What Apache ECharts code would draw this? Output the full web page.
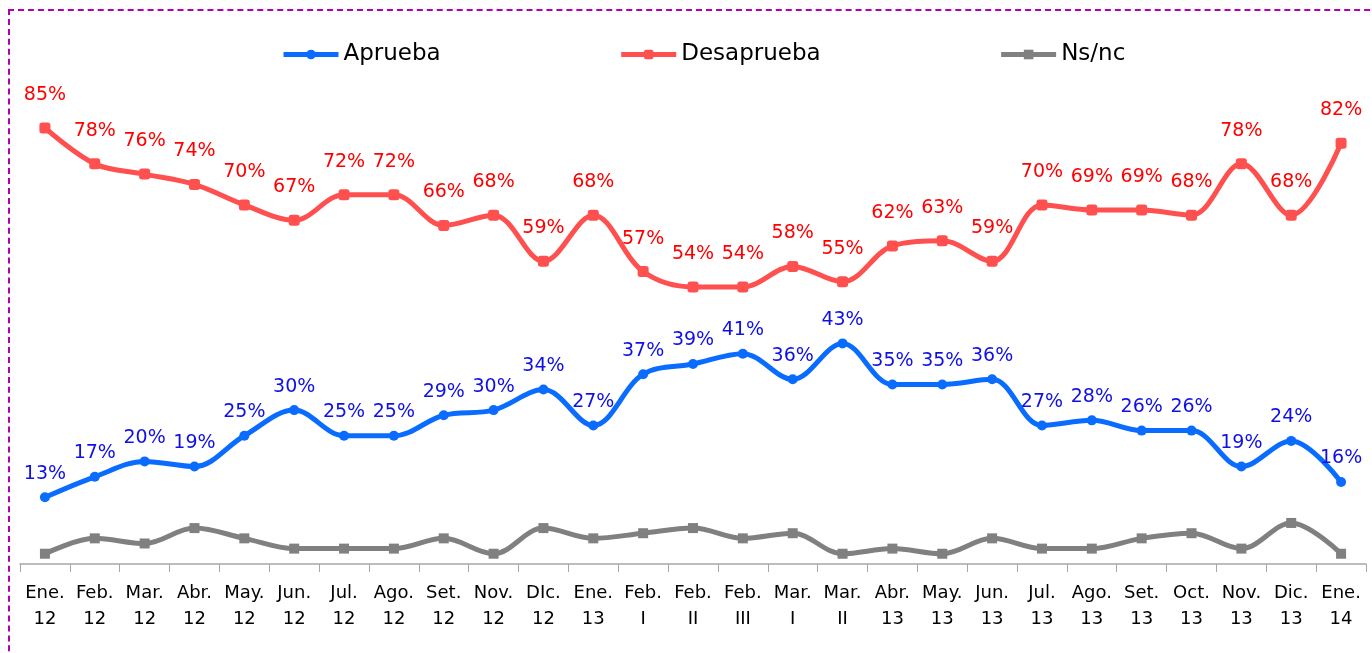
<!DOCTYPE html>
<html>
<head>
<meta charset="utf-8">
<script src="https://cdn.jsdelivr.net/npm/echarts@6/dist/echarts.min.js"></script>
<style>
  html, body { margin: 0; padding: 0; background: #fff; }
  .frame {
    position: absolute; left: 8px; top: 9px; width: 1400px; height: 700px;
    border-top: 2px dashed #b000b0; border-left: 2px dashed #b000b0;
  }
  #chart { position: absolute; left: 0; top: 0; width: 1372px; height: 653px; }
</style>
</head>
<body>
<div class="frame"></div>
<div id="chart"></div>
<script>
const categories = [
  "Ene.\n12", "Feb.\n12", "Mar.\n12", "Abr.\n12", "May.\n12", "Jun.\n12", "Jul.\n12",
  "Ago.\n12", "Set.\n12", "Nov.\n12", "DIc.\n12", "Ene.\n13", "Feb.\nI", "Feb.\nII",
  "Feb.\nIII", "Mar.\nI", "Mar.\nII", "Abr.\n13", "May.\n13", "Jun.\n13", "Jul.\n13",
  "Ago.\n13", "Set.\n13", "Oct.\n13", "Nov.\n13", "Dic.\n13", "Ene.\n14"
];
const aprueba = [13, 17, 20, 19, 25, 30, 25, 25, 29, 30, 34, 27, 37, 39, 41, 36, 43, 35, 35, 36, 27, 28, 26, 26, 19, 24, 16];
const desaprueba = [85, 78, 76, 74, 70, 67, 72, 72, 66, 68, 59, 68, 57, 54, 54, 58, 55, 62, 63, 59, 70, 69, 69, 68, 78, 68, 82];
const nsnc = [2, 5, 4, 7, 5, 3, 3, 3, 5, 2, 7, 5, 6, 7, 5, 6, 2, 3, 2, 5, 3, 3, 5, 6, 3, 8, 2];

const font = "DejaVu Sans";
const chart = echarts.init(document.getElementById("chart"));

chart.setOption({
  animation: false,
  grid: { left: 20, right: 6, top: 51, bottom: 89 },
  legend: {
    left: 276,
    top: 38,
    itemGap: 178,
    itemWidth: 55,
    itemHeight: 12,
    lineStyle: { width: 5 },
    textStyle: { fontFamily: font, fontSize: 23, color: "#000" },
    data: ["Aprueba", "Desaprueba", "Ns/nc"]
  },
  xAxis: {
    type: "category",
    data: categories,
    boundaryGap: true,
    axisLine: { lineStyle: { color: "#a6a6a6", width: 1.5 } },
    axisTick: { show: true, length: 8, lineStyle: { color: "#a6a6a6" } },
    axisLabel: {
      interval: 0, color: "#000", fontFamily: font, fontSize: 18,
      lineHeight: 26, margin: 16
    }
  },
  yAxis: {
    type: "value",
    min: 0,
    max: 100,
    show: false
  },
  series: [
    {
      name: "Aprueba",
      type: "line",
      data: aprueba,
      smooth: 0.35,
      symbol: "circle",
      symbolSize: 10,
      lineStyle: { width: 5, color: "#0a6cff" },
      itemStyle: { color: "#0a6cff" },
      label: {
        show: true, position: "top", distance: 9, formatter: "{c}%",
        color: "#1010e6", fontFamily: font, fontSize: 19
      }
    },
    {
      name: "Desaprueba",
      type: "line",
      data: desaprueba,
      smooth: 0.35,
      symbol: "roundRect",
      symbolSize: 11,
      lineStyle: { width: 5, color: "#ff5050" },
      itemStyle: { color: "#ff5050" },
      label: {
        show: true, position: "top", distance: 18, formatter: "{c}%",
        color: "#ff0000", fontFamily: font, fontSize: 19
      }
    },
    {
      name: "Ns/nc",
      type: "line",
      data: nsnc,
      smooth: 0.35,
      symbol: "rect",
      symbolSize: 10,
      lineStyle: { width: 5, color: "#808080" },
      itemStyle: { color: "#808080" },
      label: { show: false }
    }
  ]
});
</script>
</body>
</html>
